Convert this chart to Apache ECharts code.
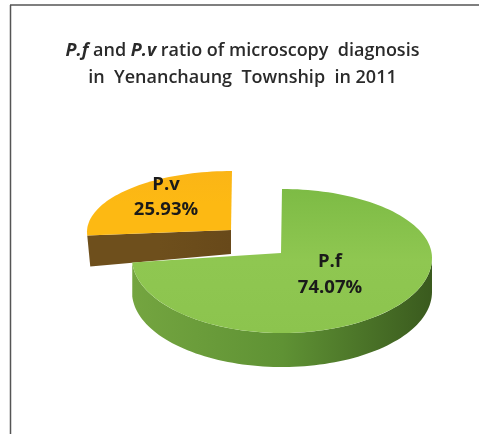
<!DOCTYPE html>
<html><head><meta charset="utf-8">
<style>html,body{margin:0;padding:0;background:#fff}#c{width:479px;height:434px}</style>
<script src="https://cdn.jsdelivr.net/npm/echarts@6/dist/echarts.min.js"></script>
</head><body><div id="c"></div>
<script>
const categories = ['P.f', 'P.v'];
const values = [74.07, 25.93];
const valueLabels = ['74.07%', '25.93%'];
const titleLine1 = '{i|P.f} and {i|P.v} ratio of microscopy  diagnosis';
const titleLine2 = 'in  Yenanchaung  Township  in 2011';

const FONT = 'Open Sans';
const looks = [
  { apex:[281,253], cx:282, cy:258, rx:150, ryTop:69, ryBot:75, depth:34, z:10,
    top:['#7dbb45','#8fc751','#8cc44e'], side:['#74a540','#5f9234','#3a5a1e'],
    label:[330,262,288] },
  { apex:[231,230], cx:232, cy:232, rx:145, ryTop:61, ryBot:61, depth:31, z:1,
    top:['#fbb516','#fdb913','#fdb913'], side:['#6e4f1c','#6e4f1c','#68491a'],
    label:[166,185,210] }
];
const total = values.reduce((a, b) => a + b, 0);

function rim(l, deg) {
  const t = deg * Math.PI / 180, c = Math.cos(t);
  return [l.cx + l.rx * Math.sin(t), l.cy - (c >= 0 ? l.ryTop : l.ryBot) * c];
}
function arc(l, a, b, dy) {
  const pts = [], n = Math.max(2, Math.ceil(Math.abs(b - a) / 2));
  for (let i = 0; i <= n; i++) {
    const p = rim(l, a + (b - a) * i / n);
    pts.push([p[0], p[1] + dy]);
  }
  return pts;
}
function grad(x, y, x2, y2, cols) {
  return { type:'linear', x, y, x2, y2, colorStops: cols.map((color, i) => ({ offset: i / (cols.length - 1), color })) };
}
function renderItem(params, api) {
  const i = params.dataIndex, l = looks[i];
  let start = 0;
  for (let k = 0; k < i; k++) start += values[k];
  const a = start / total * 360, b = a + api.value(0) / total * 360;
  const children = [];
  if (i === 0) {
    const from = 90, to = b;
    const upper = arc(l, from, to, 0), lower = arc(l, to, from, l.depth);
    children.push({ type:'polygon', z2:l.z, shape:{ points: upper.concat(lower) },
      style:{ fill: grad(0, 0, 1, 0, l.side) } });
  } else {
    const p = rim(l, a);
    children.push({ type:'polygon', z2:l.z, shape:{ points:[p, l.apex, [l.apex[0], l.apex[1] + 24], [p[0] + 3, p[1] + l.depth]] },
      style:{ fill: grad(0, 0, 1, 0, l.side) } });
  }
  children.push({ type:'polygon', z2:l.z + 1, shape:{ points:[l.apex].concat(arc(l, a, b, 0)) },
    style:{ fill: grad(0, 0, 0, 1, l.top) } });
  const font = 'bold 18.5px "' + FONT + '"';
  children.push({ type:'text', z2:20, style:{ text:categories[i], x:l.label[0], y:l.label[1], font, fill:'#1a1a1a', align:'center', verticalAlign:'middle' } });
  children.push({ type:'text', z2:20, style:{ text:valueLabels[i], x:l.label[0], y:l.label[2], font, fill:'#1a1a1a', align:'center', verticalAlign:'middle' } });
  return { type:'group', children };
}

const chart = echarts.init(document.getElementById('c'), null, { renderer:'canvas' });
chart.setOption({
  animation:false,
  backgroundColor:'#fff',
  title:{
    left:237.5, top:32, textAlign:'center',
    text: titleLine1 + '\n' + titleLine2,
    textStyle:{ fontFamily:FONT, fontSize:18, fontWeight:600, color:'#2a2a2a', lineHeight:27,
      rich:{ i:{ fontFamily:FONT, fontSize:18, fontWeight:'bold', fontStyle:'italic', color:'#2a2a2a', lineHeight:27 } } }
  },
  graphic:[
    { type:'line', silent:true, shape:{ x1:10, y1:5, x2:479, y2:5 }, style:{ stroke:'#555', lineWidth:1.5 } },
    { type:'line', silent:true, shape:{ x1:10.5, y1:5, x2:10.5, y2:434 }, style:{ stroke:'#555', lineWidth:1.5 } }
  ],
  series:[{ type:'custom', coordinateSystem:'none', renderItem,
    data: categories.map((name, i) => ({ name, value:[values[i]] })) }]
});
</script></body></html>
